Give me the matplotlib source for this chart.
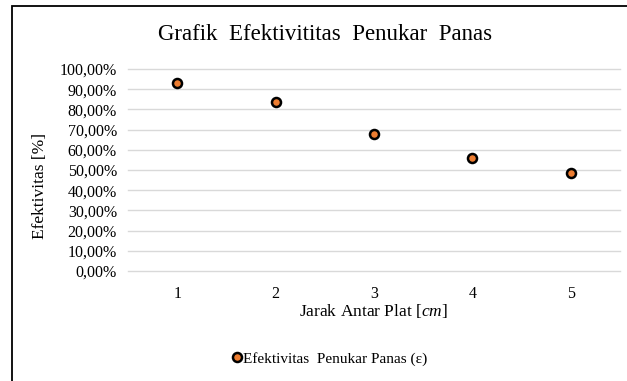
import matplotlib
matplotlib.use("Agg")
import matplotlib.pyplot as plt
from matplotlib.ticker import FuncFormatter, MultipleLocator
from matplotlib.patches import Rectangle
from matplotlib.lines import Line2D

plt.rcParams['font.family'] = ['Liberation Serif', 'DejaVu Serif']
plt.rcParams['mathtext.fontset'] = 'custom'
plt.rcParams['mathtext.rm'] = 'Liberation Serif'
plt.rcParams['mathtext.it'] = 'Liberation Serif:italic'

# data
jarak = [1, 2, 3, 4, 5]
efektivitas = [0.929, 0.835, 0.678, 0.558, 0.487]

title = "Grafik  Efektivititas  Penukar  Panas"
xlabel = "Jarak Antar Plat [$\\mathit{cm}$]"
ylabel = "Efektivitas [%]"
series_label = "Efektivitas  Penukar Panas (\u03b5)"

fig = plt.figure(figsize=(6.27, 3.81), dpi=100)
W, H = 627, 381
ax = fig.add_axes([128 / W, 1 - 271 / H, (620 - 128) / W, (271 - 69) / H])

ax.plot(jarak, efektivitas, linestyle='none', marker='o', markersize=6.5,
        markerfacecolor='#ED7D31', markeredgecolor='black', markeredgewidth=1.8,
        zorder=3)

ax.set_xlim(0.5, 5.5)
ax.set_ylim(0, 1.0)
ax.yaxis.set_major_locator(MultipleLocator(0.1))
ax.set_xticks(jarak)
ax.yaxis.set_major_formatter(FuncFormatter(lambda v, p: "{:.2f}%".format(v * 100).replace('.', ',')))
ax.grid(axis='y', color='#d9d9d9', linewidth=1.0)
for gl in ax.get_ygridlines():
    gl.set_clip_on(False)
ax.set_axisbelow(True)
for s in ax.spines.values():
    s.set_visible(False)
ax.tick_params(length=0, labelsize=11.5, colors='black', pad=8)
ax.tick_params(axis='x', pad=11)

fig.text(325 / W, 1 - 35 / H, title, ha='center', va='center', fontsize=16.5)
fig.text(40 / W, 1 - 186 / H, ylabel, ha='center', va='center', rotation=90, fontsize=12.5)
fig.text(373 / W, 1 - 311 / H, xlabel, ha='center', va='center', fontsize=12.5)

handle = Line2D([], [], linestyle='none', marker='o', markersize=6.5,
                markerfacecolor='#ED7D31', markeredgecolor='black', markeredgewidth=1.8)
fig.legend([handle], [series_label], loc='center', bbox_to_anchor=(330 / W, 1 - 359 / H),
           frameon=False, fontsize=11, handlelength=0.6, handletextpad=0.1,
           borderpad=0, borderaxespad=0)

fig.patches.append(Rectangle((12 / W, -0.1), 1.2, 1 - 6 / H + 0.1, transform=fig.transFigure,
                             fill=False, edgecolor='black', linewidth=1.3))

fig.savefig("out.png", dpi=100)
